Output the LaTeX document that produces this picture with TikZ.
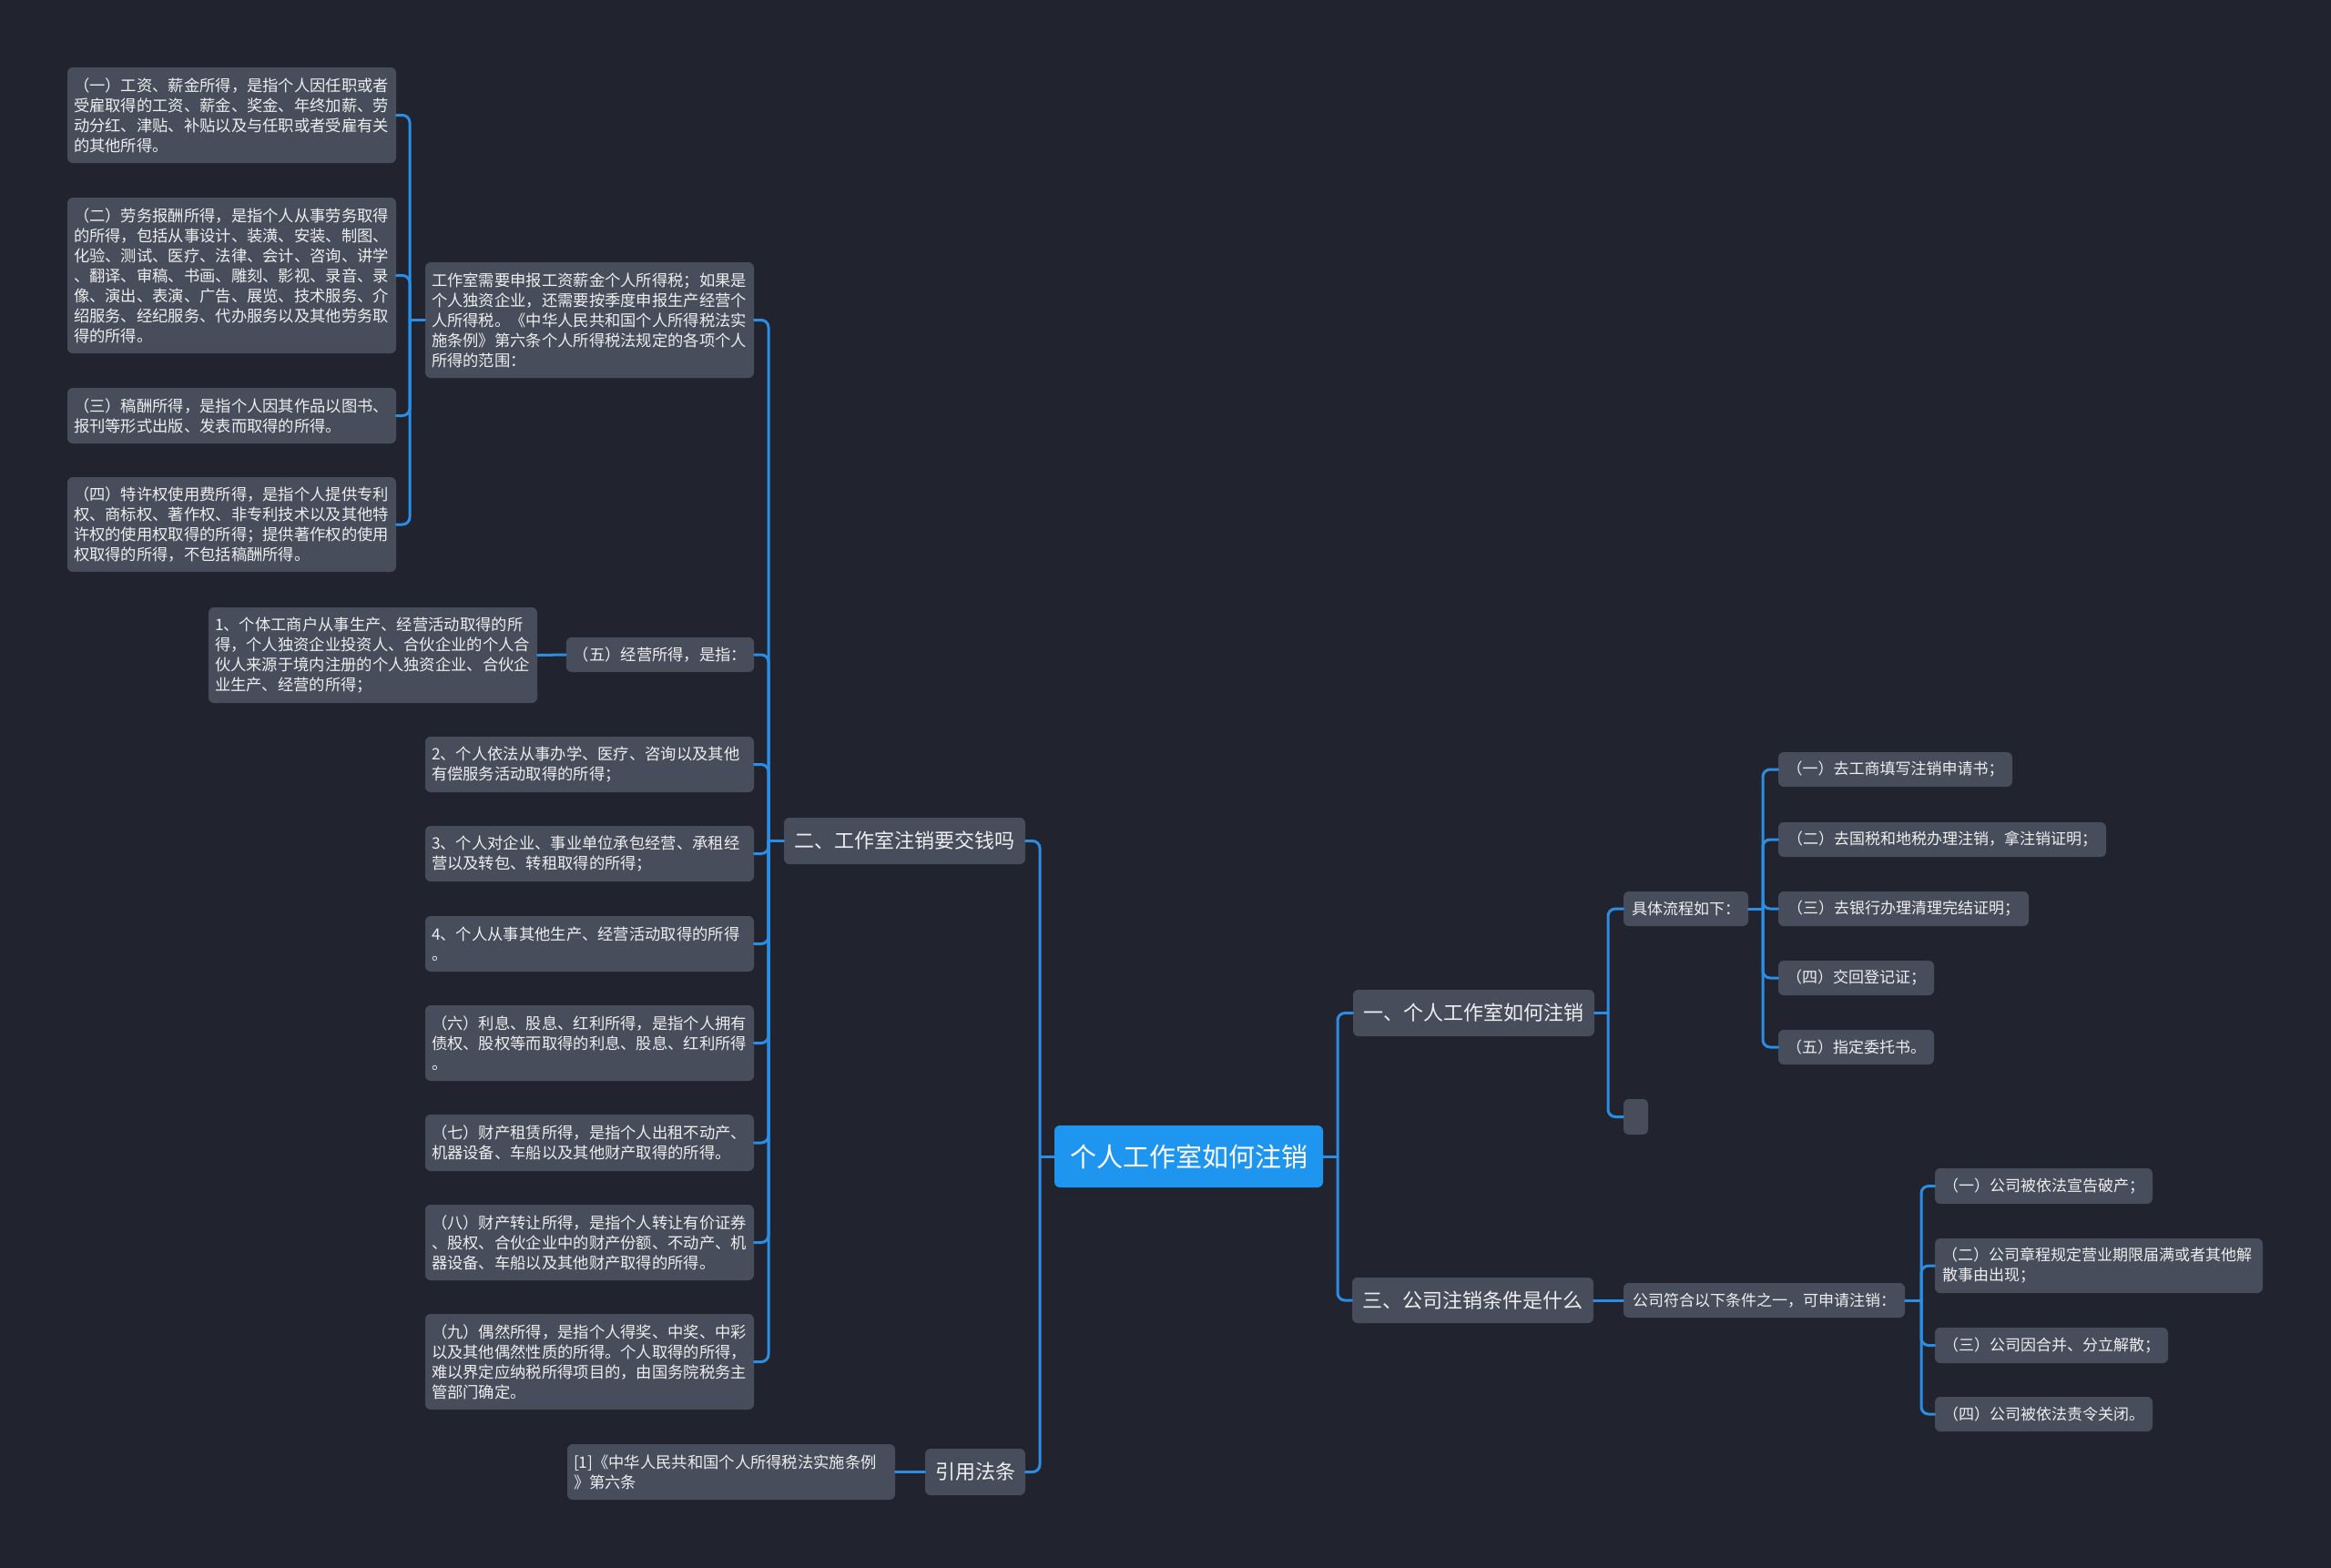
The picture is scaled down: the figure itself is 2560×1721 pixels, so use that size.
\documentclass[tikz,border=0pt]{standalone}
\usepackage{fontspec}
\setmainfont{Noto Sans CJK SC}
\usetikzlibrary{calc}
\definecolor{bgnavy}{HTML}{21242F}
\definecolor{boxgray}{HTML}{474D5B}
\definecolor{linkblue}{HTML}{2B8DE3}
\definecolor{rootblue}{HTML}{1E96F0}
\definecolor{textwhite}{HTML}{EEEEEE}
\tikzset{
  rootbox/.style={fill=rootblue, rounded corners=3pt, text=white,
    font=\fontsize{14.5}{17}\selectfont, inner xsep=4pt, inner ysep=0pt},
  topicbox/.style={fill=boxgray, rounded corners=3pt, text=textwhite,
    font=\fontsize{11}{13}\selectfont, inner xsep=4pt, inner ysep=0pt},
  leafbox/.style={fill=boxgray, rounded corners=3pt, text=textwhite,
    font=\fontsize{8.5}{11}\selectfont, inner xsep=4pt, inner ysep=0pt},
  parabox/.style={leafbox, align=left, text width=172.5pt},
  bigpara/.style={parabox, font=\fontsize{8.65}{11}\selectfont, inner xsep=3.5pt, text width=173.5pt},
  link/.style={draw=linkblue, line width=1.5pt, rounded corners=4pt, line cap=round}
}
\newcommand{\stubleft}[2]{\draw[link] (#1.west) -- (#1.west -| #2);}
\newcommand{\stubright}[2]{\draw[link] (#1.east) -- (#1.east -| #2);}
\newcommand{\toleft}[3]{\draw[link] (#1.west -| #2) |- (#3.east);}
\newcommand{\toright}[3]{\draw[link] (#1.east -| #2) |- (#3.west);}

\begin{document}
\begin{tikzpicture}[x=0.5pt, y=-0.5pt]
  \useasboundingbox (0,0) rectangle (2560,1721);
  \fill[bgnavy] (-10,-10) rectangle (2570,1731);

  \node[rootbox, minimum width=147.5pt, minimum height=34pt] (root) at (1305.5,1270) {个人工作室如何注销};

  \node[topicbox, minimum width=132.5pt, minimum height=25.5pt] (b2) at (993.5,923.5) {二、工作室注销要交钱吗};
  \node[topicbox, minimum width=55pt, minimum height=25.5pt] (b4) at (1071,1616.5) {引用法条};
  \node[topicbox, minimum width=132.5pt, minimum height=25.5pt] (b1) at (1618.5,1112.5) {一、个人工作室如何注销};
  \node[topicbox, minimum width=132.5pt, minimum height=25pt] (b3) at (1617.5,1428) {三、公司注销条件是什么};

  \node[bigpara, minimum height=63.5pt] (p1) at (647.5,351.5) {工作室需要申报工资薪金个人所得税；如果是\\个人独资企业，还需要按季度申报生产经营个\\人所得税。《中华人民共和国个人所得税法实\\施条例》第六条个人所得税法规定的各项个人\\所得的范围：};
  \node[leafbox, font=\fontsize{8.65}{11}\selectfont, minimum width=103pt, minimum height=19pt] (p5) at (725,719) {（五）经营所得，是指：};
  \node[bigpara, minimum height=30.5pt] (p2) at (647.5,839.5) {2、个人依法从事办学、医疗、咨询以及其他\\有偿服务活动取得的所得；};
  \node[bigpara, minimum height=30.5pt] (p3) at (647.5,937.5) {3、个人对企业、事业单位承包经营、承租经\\营以及转包、转租取得的所得；};
  \node[bigpara, minimum height=30.5pt] (p4) at (647.5,1036.5) {4、个人从事其他生产、经营活动取得的所得\\。};
  \node[bigpara, minimum height=41.5pt] (p6) at (647.5,1145.5) {（六）利息、股息、红利所得，是指个人拥有\\债权、股权等而取得的利息、股息、红利所得\\。};
  \node[bigpara, minimum height=31pt] (p7) at (647.5,1255) {（七）财产租赁所得，是指个人出租不动产、\\机器设备、车船以及其他财产取得的所得。};
  \node[bigpara, minimum height=41.5pt] (p8) at (647.5,1364.5) {（八）财产转让所得，是指个人转让有价证券\\、股权、合伙企业中的财产份额、不动产、机\\器设备、车船以及其他财产取得的所得。};
  \node[bigpara, minimum height=52.5pt] (p9) at (647.5,1495.5) {（九）偶然所得，是指个人得奖、中奖、中彩\\以及其他偶然性质的所得。个人取得的所得，\\难以界定应纳税所得项目的，由国务院税务主\\管部门确定。};
  \node[bigpara, text width=173pt, minimum height=30.5pt] (r1) at (803,1616.5) {[1]《中华人民共和国个人所得税法实施条例\\》第六条};

  \node[bigpara, minimum height=52.5pt] (l1) at (254.5,126.5) {（一）工资、薪金所得，是指个人因任职或者\\受雇取得的工资、薪金、奖金、年终加薪、劳\\动分红、津贴、补贴以及与任职或者受雇有关\\的其他所得。};
  \node[bigpara, minimum height=85.5pt] (l2) at (254.5,302.5) {（二）劳务报酬所得，是指个人从事劳务取得\\的所得，包括从事设计、装潢、安装、制图、\\化验、测试、医疗、法律、会计、咨询、讲学\\、翻译、审稿、书画、雕刻、影视、录音、录\\像、演出、表演、广告、展览、技术服务、介\\绍服务、经纪服务、代办服务以及其他劳务取\\得的所得。};
  \node[bigpara, minimum height=30.5pt] (l3) at (254.5,456.5) {（三）稿酬所得，是指个人因其作品以图书、\\报刊等形式出版、发表而取得的所得。};
  \node[bigpara, minimum height=52pt] (l4) at (254.5,576) {（四）特许权使用费所得，是指个人提供专利\\权、商标权、著作权、非专利技术以及其他特\\许权的使用权取得的所得；提供著作权的使用\\权取得的所得，不包括稿酬所得。};
  \node[bigpara, minimum height=52.5pt] (c51) at (409.5,719.5) {1、个体工商户从事生产、经营活动取得的所\\得，个人独资企业投资人、合伙企业的个人合\\伙人来源于境内注册的个人独资企业、合伙企\\业生产、经营的所得；};

  \node[leafbox, minimum width=68.5pt, minimum height=19pt] (f1) at (1851.5,998) {具体流程如下：};
  \node[leafbox, inner sep=0pt, minimum width=13.5pt, minimum height=19.5pt] (e1) at (1796.5,1226.5) {};
  \node[leafbox, minimum width=128.5pt, minimum height=19pt] (s1) at (2081.5,845) {（一）去工商填写注销申请书；};
  \node[leafbox, minimum width=180pt, minimum height=19pt] (s2) at (2133,922) {（二）去国税和地税办理注销，拿注销证明；};
  \node[leafbox, minimum width=137.5pt, minimum height=19pt] (s3) at (2090.5,998) {（三）去银行办理清理完结证明；};
  \node[leafbox, minimum width=85.5pt, minimum height=19pt] (s4) at (2038.5,1074) {（四）交回登记证；};
  \node[leafbox, minimum width=85.5pt, minimum height=19pt] (s5) at (2038.5,1150) {（五）指定委托书。};

  \node[leafbox, minimum width=154.5pt, minimum height=19pt] (g1) at (1937.5,1428) {公司符合以下条件之一，可申请注销：};
  \node[leafbox, minimum width=119.5pt, minimum height=19.5pt] (t1) at (2244.5,1302.5) {（一）公司被依法宣告破产；};
  \node[parabox, text width=172pt, minimum height=30pt] (t2) at (2305,1390) {（二）公司章程规定营业期限届满或者其他解\\散事由出现；};
  \node[leafbox, minimum width=128pt, minimum height=19.5pt] (t3) at (2253,1477.5) {（三）公司因合并、分立解散；};
  \node[leafbox, minimum width=119.5pt, minimum height=19pt] (t4) at (2244.5,1553) {（四）公司被依法责令关闭。};

  \coordinate (rl) at (1142,0);
  \coordinate (rr) at (1469,0);
  \coordinate (tb2) at (844,0);
  \coordinate (tp1) at (450,0);
  \coordinate (tb1) at (1766,0);
  \coordinate (tf1) at (1936,0);
  \coordinate (tg1) at (2110,0);

  \stubleft{root}{rl}
  \toleft{root}{rl}{b2}
  \toleft{root}{rl}{b4}
  \stubright{root}{rr}
  \toright{root}{rr}{b1}
  \toright{root}{rr}{b3}

  \stubleft{b2}{tb2}
  \toleft{b2}{tb2}{p1}
  \toleft{b2}{tb2}{p5}
  \toleft{b2}{tb2}{p2}
  \toleft{b2}{tb2}{p3}
  \toleft{b2}{tb2}{p4}
  \toleft{b2}{tb2}{p6}
  \toleft{b2}{tb2}{p7}
  \toleft{b2}{tb2}{p8}
  \toleft{b2}{tb2}{p9}

  \stubleft{p1}{tp1}
  \toleft{p1}{tp1}{l1}
  \toleft{p1}{tp1}{l2}
  \toleft{p1}{tp1}{l3}
  \toleft{p1}{tp1}{l4}

  \draw[link] (p5.west) -- (c51.east);
  \draw[link] (b4.west) -- (r1.east);

  \stubright{b1}{tb1}
  \toright{b1}{tb1}{f1}
  \toright{b1}{tb1}{e1}

  \stubright{f1}{tf1}
  \toright{f1}{tf1}{s1}
  \toright{f1}{tf1}{s2}
  \toright{f1}{tf1}{s3}
  \toright{f1}{tf1}{s4}
  \toright{f1}{tf1}{s5}

  \draw[link] (b3.east) -- (g1.west);
  \stubright{g1}{tg1}
  \toright{g1}{tg1}{t1}
  \toright{g1}{tg1}{t2}
  \toright{g1}{tg1}{t3}
  \toright{g1}{tg1}{t4}
\end{tikzpicture}
\end{document}
